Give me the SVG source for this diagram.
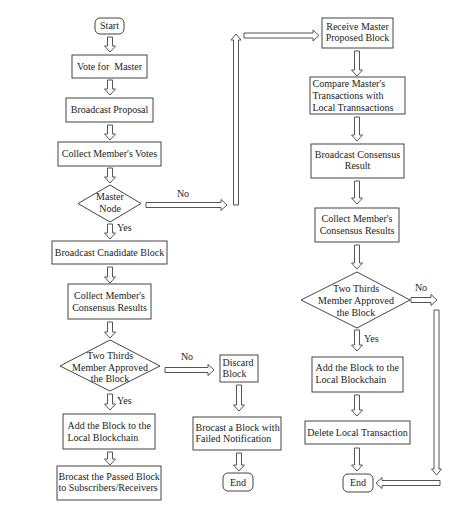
<svg xmlns="http://www.w3.org/2000/svg" width="472" height="511" viewBox="0 0 472 511" font-family="'Liberation Serif', 'Times New Roman', serif" font-size="10">
<style>
.box{fill:#fff;stroke:#444;stroke-width:1}
.arr{fill:#fff;stroke:#555;stroke-width:1;stroke-linejoin:miter}
text{font-family:'Liberation Serif','Times New Roman',serif;font-size:10px;fill:#222}
.c{text-anchor:middle}
</style>
<rect width="472" height="511" fill="#fff"/>
<g id="connectors">
<path class="arr" d="M107.5 37 H112.5 V46 H115.5 L110 52 L104.5 46 H107.5 Z"/>
<path class="arr" d="M107.5 80 H112.5 V89 H115.5 L110 95 L104.5 89 H107.5 Z"/>
<path class="arr" d="M107.5 125 H112.5 V134 H115.5 L110 140 L104.5 134 H107.5 Z"/>
<path class="arr" d="M107.5 168 H112.5 V177 H115.5 L110 183 L104.5 177 H107.5 Z"/>
<path class="arr" d="M107.5 224 H112.5 V233 H115.5 L110 239 L104.5 233 H107.5 Z"/>
<path class="arr" d="M107.5 267 H112.5 V277 H115.5 L110 283 L104.5 277 H107.5 Z"/>
<path class="arr" d="M107.5 322 H112.5 V332 H115.5 L110 338 L104.5 332 H107.5 Z"/>
<path class="arr" d="M107.5 394 H112.5 V404 H115.5 L110 410 L104.5 404 H107.5 Z"/>
<path class="arr" d="M107.5 452 H112.5 V459 H115.5 L110 465 L104.5 459 H107.5 Z"/>
<path class="arr" d="M236.5 385 H241.5 V405 H244.5 L239 411 L233.5 405 H236.5 Z"/>
<path class="arr" d="M236.5 453 H241.5 V465 H244.5 L239 471 L233.5 465 H236.5 Z"/>
<path class="arr" d="M354.5 51 H359.5 V70 H362.5 L357 76 L351.5 70 H354.5 Z"/>
<path class="arr" d="M354.5 117 H359.5 V135 H362.5 L357 141 L351.5 135 H354.5 Z"/>
<path class="arr" d="M354.5 181 H359.5 V198 H362.5 L357 204 L351.5 198 H354.5 Z"/>
<path class="arr" d="M354.5 245 H359.5 V263 H362.5 L357 269 L351.5 263 H354.5 Z"/>
<path class="arr" d="M354.5 330 H359.5 V345 H362.5 L357 351 L351.5 345 H354.5 Z"/>
<path class="arr" d="M354.5 395 H359.5 V410 H362.5 L357 416 L351.5 410 H354.5 Z"/>
<path class="arr" d="M354.5 448 H359.5 V465 H362.5 L357 471 L351.5 465 H354.5 Z"/>
<path class="arr" d="M434 310 H439 V469 H441.5 L436.5 475 L431.5 469 H434 Z"/>
<path class="arr" d="M146 202.5 H221 V199.5 L227 205 L221 210.5 V207.5 H146 Z"/>
<path class="arr" d="M233.5 205 V40 H231 L236 34 L241 40 H238.5 V205 Z"/>
<path class="arr" d="M244 33 H313 V30 L319 35.5 L313 41 V38 H244 Z"/>
<path class="arr" d="M165 367.5 H208 V364.5 L214 370 L208 375.5 V372.5 H165 Z"/>
<path class="arr" d="M411 297.5 H431 V294.5 L437 300 L431 305.5 V302.5 H411 Z"/>
<path class="arr" d="M440 480.5 H382 V477.5 L376 483 L382 488.5 V485.5 H440 Z"/>
<text class="c" x="183" y="196.5">No</text>
<text x="117" y="231">Yes</text>
<text class="c" x="187" y="359.5">No</text>
<text x="117" y="403.5">Yes</text>
<text class="c" x="421" y="290.5">No</text>
<text x="364" y="342">Yes</text>
</g>
<g id="start"><rect class="box" x="95" y="18" width="29" height="16" rx="5"/><text class="c" x="109.5" y="28.5">Start</text></g>
<g id="vote"><rect class="box" x="72" y="55" width="75" height="23"/><text class="c" x="109.5" y="69.5" xml:space="preserve">Vote for  Master</text></g>
<g id="broadcast-proposal"><rect class="box" x="66" y="98" width="87" height="24"/><text class="c" x="109.5" y="112.5">Broadcast Proposal</text></g>
<g id="collect-votes"><rect class="box" x="58" y="142" width="103" height="24"/><text class="c" x="109.5" y="157">Collect Member's Votes</text></g>
<g id="master-node"><polygon class="box" points="110,185 141,203.5 110,222 78,203.5"/><text class="c" x="110" y="199.5">Master</text><text class="c" x="110" y="211.5">Node</text></g>
<g id="broadcast-candidate"><rect class="box" x="52" y="241" width="115" height="23"/><text class="c" x="109.5" y="255.5">Broadcast Cnadidate Block</text></g>
<g id="collect-consensus-left"><rect class="box" x="68" y="284" width="83" height="35"/><text class="c" x="109.5" y="298.5">Collect Member's</text><text class="c" x="109.5" y="310.5">Consensus Results</text></g>
<g id="two-thirds-left"><polygon class="box" points="110,340 160,366 110,391 60,366"/><text class="c" x="110" y="358.5">Two Thirds</text><text class="c" x="110" y="370.5">Member Approved</text><text class="c" x="110" y="381.5">the Block</text></g>
<g id="add-block-left"><rect class="box" x="63" y="414" width="92" height="35"/><text x="67.5" y="428.5">Add the Block to the</text><text x="67.5" y="440.5">Local Blockchain</text></g>
<g id="broadcast-passed"><rect class="box" x="57" y="466" width="104" height="34"/><text x="58.5" y="479.5">Brocast the Passed Block</text><text x="58.5" y="491">to Subscribers/Receivers</text></g>
<g id="discard"><rect class="box" x="220" y="355" width="38" height="27"/><text x="222.5" y="365.5">Discard</text><text x="222.5" y="377">Block</text></g>
<g id="broadcast-failed"><rect class="box" x="193" y="417" width="88" height="33"/><text x="195.5" y="430.5">Brocast a Block with</text><text x="195.5" y="442">Failed Notification</text></g>
<g id="end-mid"><rect class="box" x="223" y="473" width="30" height="18" rx="5"/><text class="c" x="238" y="485.5">End</text></g>
<g id="receive"><rect class="box" x="322" y="18" width="71" height="30"/><text class="c" x="357.5" y="29.5">Receive Master</text><text class="c" x="357.5" y="41">Proposed Block</text></g>
<g id="compare"><rect class="box" x="310" y="77" width="95" height="37"/><text x="312.5" y="86.5">Compare Master's</text><text x="312.5" y="98.5">Transactions with</text><text x="312.5" y="110.5">Local Trannsactions</text></g>
<g id="broadcast-result"><rect class="box" x="311" y="144" width="93" height="34"/><text class="c" x="357.5" y="157.5">Broadcast Consensus</text><text class="c" x="357.5" y="168.5">Result</text></g>
<g id="collect-consensus-right"><rect class="box" x="315" y="208" width="84" height="34"/><text class="c" x="357" y="221.5">Collect Member's</text><text class="c" x="357" y="233.5">Consensus Results</text></g>
<g id="two-thirds-right"><polygon class="box" points="357,272 410,300 357,328 301,300"/><text class="c" x="356" y="291.5">Two Thirds</text><text class="c" x="356" y="303.5">Member Approved</text><text class="c" x="356" y="315.5">the Block</text></g>
<g id="add-block-right"><rect class="box" x="312" y="357" width="91" height="35"/><text x="315.5" y="370.5">Add the Block to the</text><text x="315.5" y="382.5">Local Blockchain</text></g>
<g id="delete-local"><rect class="box" x="305" y="421" width="105" height="23"/><text class="c" x="357.5" y="435.5">Delete Local Transaction</text></g>
<g id="end-right"><rect class="box" x="343" y="474" width="30" height="18" rx="5"/><text class="c" x="358" y="485.5">End</text></g>
</svg>
